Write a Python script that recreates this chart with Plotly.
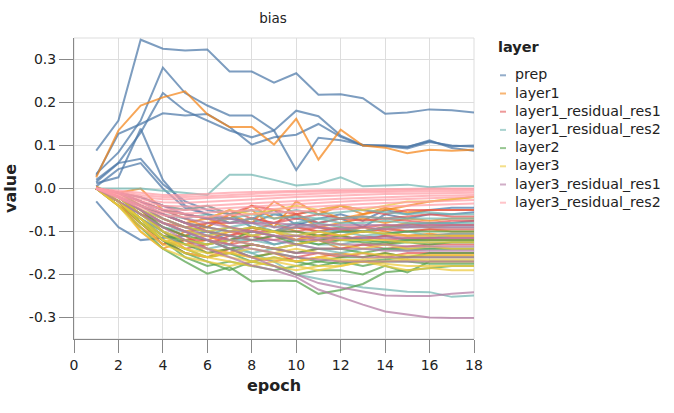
import plotly.graph_objects as go

epochs = list(range(1, 19))

layers = ["prep", "layer1", "layer1_residual_res1", "layer1_residual_res2",
          "layer2", "layer3", "layer3_residual_res1", "layer3_residual_res2"]

colors = ["#4c78a8", "#f58518", "#e45756", "#72b7b2",
          "#54a24b", "#eeca3b", "#b279a2", "#ff9da6"]

prep = [
    [0.088, 0.158, 0.346, 0.325, 0.321, 0.323, 0.272, 0.272, 0.246, 0.268, 0.218, 0.219, 0.21, 0.174, 0.177, 0.184, 0.182, 0.177],
    [0.034, 0.084, 0.158, 0.281, 0.222, 0.193, 0.17, 0.17, 0.135, 0.181, 0.168, 0.123, 0.1, 0.1, 0.096, 0.112, 0.094, 0.088],
    [0.02, 0.06, 0.13, 0.222, 0.181, 0.158, 0.135, 0.119, 0.135, 0.043, 0.118, 0.112, 0.102, 0.098, 0.093, 0.108, 0.1, 0.097],
    [0.03, 0.127, 0.15, 0.175, 0.17, 0.173, 0.143, 0.102, 0.119, 0.125, 0.15, 0.12, 0.1, 0.1, 0.097, 0.11, 0.098, 0.1],
    [0.012, 0.026, 0.139, 0.02, -0.04, -0.06, -0.07, -0.08, -0.06, -0.07, -0.08, -0.07, -0.09, -0.06, -0.07, -0.06, -0.06, -0.055],
    [0.015, 0.059, 0.069, 0.01, -0.03, -0.05, -0.06, -0.09, -0.1, -0.08, -0.09, -0.1, -0.1, -0.09, -0.085, -0.08, -0.08, -0.075],
    [0.005, 0.045, 0.059, 0.0, -0.045, -0.06, -0.08, -0.07, -0.05, -0.085, -0.07, -0.06, -0.075, -0.05, -0.06, -0.05, -0.045, -0.045],
    [-0.03, -0.09, -0.12, -0.115, -0.11, -0.1, -0.12, -0.11, -0.13, -0.12, -0.11, -0.12, -0.115, -0.11, -0.12, -0.115, -0.11, -0.11],
]

layer1 = [
    [0.026, 0.135, 0.193, 0.212, 0.226, 0.173, 0.143, 0.143, 0.102, 0.162, 0.067, 0.137, 0.1, 0.095, 0.082, 0.09, 0.088, 0.09],
    [0.0, -0.04, -0.08, -0.13, -0.1, -0.09, -0.06, -0.08, -0.03, -0.06, -0.05, -0.07, -0.06, -0.05, -0.04, -0.03, -0.025, -0.02],
    [0.005, -0.02, -0.06, -0.09, -0.11, -0.08, -0.07, -0.04, -0.07, -0.06, -0.09, -0.08, -0.07, -0.08, -0.07, -0.075, -0.07, -0.07],
    [0.0, -0.03, -0.07, -0.11, -0.13, -0.12, -0.1, -0.11, -0.1, -0.09, -0.1, -0.11, -0.1, -0.09, -0.1, -0.095, -0.1, -0.1],
    [0.0, -0.01, 0.0, -0.05, -0.07, -0.09, -0.06, -0.05, -0.09, -0.03, -0.06, -0.04, -0.06, -0.045, -0.055, -0.05, -0.05, -0.05],
    [0.0, -0.03, -0.1, -0.14, -0.12, -0.15, -0.14, -0.13, -0.14, -0.13, -0.12, -0.14, -0.13, -0.13, -0.12, -0.12, -0.12, -0.12],
    [0.0, -0.02, -0.05, -0.1, -0.12, -0.11, -0.13, -0.09, -0.1, -0.12, -0.1, -0.09, -0.1, -0.09, -0.08, -0.09, -0.085, -0.085],
    [0.0, -0.03, -0.08, -0.12, -0.15, -0.16, -0.15, -0.16, -0.15, -0.17, -0.16, -0.15, -0.16, -0.15, -0.16, -0.155, -0.155, -0.155],
    [0.0, -0.01, -0.04, -0.06, -0.08, -0.07, -0.09, -0.1, -0.08, -0.1, -0.11, -0.1, -0.09, -0.1, -0.11, -0.105, -0.11, -0.11],
]

layer1_residual_res1 = [
    [0.0, -0.03, -0.07, -0.1, -0.14, -0.13, -0.11, -0.1, -0.1, -0.09, -0.1, -0.09, -0.09, -0.085, -0.09, -0.085, -0.085, -0.085],
    [0.0, -0.02, -0.05, -0.08, -0.09, -0.08, -0.08, -0.07, -0.08, -0.06, -0.08, -0.07, -0.065, -0.07, -0.065, -0.06, -0.065, -0.065],
    [0.0, -0.04, -0.09, -0.13, -0.12, -0.12, -0.13, -0.12, -0.11, -0.12, -0.11, -0.11, -0.12, -0.11, -0.11, -0.11, -0.105, -0.105],
    [0.0, -0.01, -0.03, -0.05, -0.06, -0.07, -0.05, -0.07, -0.08, -0.07, -0.06, -0.07, -0.075, -0.07, -0.075, -0.08, -0.075, -0.075],
    [0.0, -0.03, -0.06, -0.09, -0.11, -0.14, -0.15, -0.13, -0.14, -0.15, -0.14, -0.14, -0.13, -0.14, -0.135, -0.13, -0.13, -0.13],
    [0.0, -0.02, -0.04, -0.06, -0.08, -0.1, -0.11, -0.09, -0.1, -0.1, -0.09, -0.095, -0.1, -0.095, -0.1, -0.095, -0.095, -0.095],
    [0.0, -0.03, -0.08, -0.12, -0.15, -0.16, -0.14, -0.16, -0.17, -0.16, -0.15, -0.16, -0.15, -0.16, -0.15, -0.15, -0.15, -0.15],
    [0.0, -0.01, -0.02, -0.04, -0.05, -0.04, -0.06, -0.04, -0.05, -0.06, -0.05, -0.04, -0.05, -0.06, -0.05, -0.05, -0.05, -0.05],
    [0.0, -0.02, -0.06, -0.08, -0.1, -0.11, -0.12, -0.11, -0.12, -0.11, -0.12, -0.12, -0.11, -0.12, -0.115, -0.115, -0.115, -0.115],
]

layer1_residual_res2 = [
    [0.0, 0.0, 0.0, -0.005, -0.01, -0.015, 0.032, 0.032, 0.02, 0.007, 0.011, 0.026, 0.005, 0.007, 0.009, 0.003, 0.006, 0.006],
    [0.0, -0.02, -0.05, -0.08, -0.1, -0.12, -0.14, -0.15, -0.17, -0.2, -0.21, -0.22, -0.23, -0.235, -0.24, -0.241, -0.252, -0.249],
    [0.0, -0.02, -0.04, -0.06, -0.07, -0.06, -0.08, -0.07, -0.09, -0.08, -0.07, -0.08, -0.08, -0.075, -0.08, -0.08, -0.08, -0.08],
    [0.0, -0.03, -0.06, -0.09, -0.1, -0.11, -0.09, -0.11, -0.1, -0.11, -0.1, -0.1, -0.11, -0.105, -0.1, -0.11, -0.105, -0.105],
    [0.0, -0.01, -0.02, -0.04, -0.05, -0.04, -0.06, -0.05, -0.06, -0.05, -0.06, -0.055, -0.05, -0.055, -0.06, -0.055, -0.06, -0.06],
    [0.0, -0.03, -0.07, -0.11, -0.13, -0.14, -0.13, -0.15, -0.14, -0.13, -0.14, -0.15, -0.14, -0.14, -0.145, -0.14, -0.14, -0.14],
    [0.0, -0.02, -0.05, -0.07, -0.09, -0.1, -0.09, -0.08, -0.1, -0.09, -0.08, -0.09, -0.1, -0.09, -0.09, -0.09, -0.09, -0.09],
    [0.0, -0.03, -0.07, -0.1, -0.12, -0.13, -0.12, -0.12, -0.13, -0.12, -0.13, -0.13, -0.12, -0.125, -0.12, -0.125, -0.125, -0.125],
    [0.0, -0.01, -0.03, -0.05, -0.06, -0.07, -0.07, -0.06, -0.07, -0.065, -0.07, -0.07, -0.065, -0.07, -0.07, -0.07, -0.07, -0.07],
]

layer2 = [
    [0.0, -0.04, -0.09, -0.14, -0.17, -0.198, -0.183, -0.216, -0.214, -0.215, -0.245, -0.236, -0.222, -0.195, -0.19, -0.185, -0.18, -0.18],
    [0.0, -0.03, -0.08, -0.12, -0.15, -0.17, -0.19, -0.17, -0.18, -0.2, -0.19, -0.19, -0.2, -0.18, -0.195, -0.17, -0.17, -0.17],
    [0.0, -0.02, -0.06, -0.1, -0.13, -0.15, -0.14, -0.16, -0.15, -0.16, -0.17, -0.16, -0.16, -0.15, -0.16, -0.15, -0.15, -0.15],
    [0.0, -0.03, -0.07, -0.11, -0.12, -0.13, -0.12, -0.1, -0.11, -0.12, -0.13, -0.12, -0.125, -0.13, -0.125, -0.13, -0.125, -0.125],
    [0.0, -0.01, -0.04, -0.07, -0.09, -0.1, -0.11, -0.12, -0.11, -0.13, -0.12, -0.11, -0.12, -0.125, -0.12, -0.12, -0.12, -0.12],
    [0.0, -0.03, -0.08, -0.12, -0.16, -0.18, -0.17, -0.18, -0.19, -0.18, -0.17, -0.175, -0.17, -0.165, -0.16, -0.16, -0.16, -0.16],
    [0.0, -0.02, -0.05, -0.09, -0.11, -0.12, -0.14, -0.13, -0.14, -0.15, -0.14, -0.14, -0.15, -0.14, -0.14, -0.14, -0.14, -0.14],
    [0.0, -0.03, -0.07, -0.12, -0.14, -0.16, -0.15, -0.17, -0.16, -0.17, -0.18, -0.17, -0.18, -0.17, -0.17, -0.175, -0.175, -0.175],
    [0.0, -0.02, -0.04, -0.06, -0.08, -0.09, -0.1, -0.09, -0.1, -0.1, -0.11, -0.1, -0.1, -0.105, -0.1, -0.1, -0.1, -0.1],
]

layer3 = [
    [0.0, -0.03, -0.07, -0.11, -0.14, -0.16, -0.17, -0.18, -0.17, -0.18, -0.19, -0.18, -0.17, -0.18, -0.19, -0.185, -0.19, -0.19],
    [0.0, -0.02, -0.06, -0.1, -0.12, -0.13, -0.12, -0.13, -0.14, -0.13, -0.12, -0.13, -0.14, -0.13, -0.14, -0.135, -0.14, -0.14],
    [0.0, -0.01, -0.03, -0.05, -0.06, -0.07, -0.05, -0.06, -0.05, -0.04, -0.05, -0.04, -0.05, -0.04, -0.03, -0.03, -0.025, -0.02],
    [0.0, -0.04, -0.09, -0.13, -0.15, -0.16, -0.15, -0.16, -0.165, -0.17, -0.16, -0.165, -0.17, -0.17, -0.165, -0.17, -0.17, -0.17],
    [0.0, -0.02, -0.05, -0.08, -0.1, -0.11, -0.1, -0.09, -0.1, -0.11, -0.1, -0.11, -0.1, -0.105, -0.11, -0.11, -0.11, -0.11],
    [0.0, -0.03, -0.07, -0.12, -0.13, -0.14, -0.15, -0.14, -0.15, -0.14, -0.15, -0.155, -0.15, -0.155, -0.155, -0.155, -0.155, -0.155],
    [0.0, -0.03, -0.08, -0.12, -0.14, -0.15, -0.16, -0.17, -0.16, -0.17, -0.16, -0.17, -0.165, -0.16, -0.165, -0.165, -0.165, -0.165],
    [0.0, -0.02, -0.05, -0.07, -0.09, -0.1, -0.09, -0.11, -0.1, -0.12, -0.11, -0.12, -0.12, -0.12, -0.125, -0.125, -0.125, -0.125],
    [0.0, -0.04, -0.1, -0.14, -0.16, -0.17, -0.18, -0.17, -0.18, -0.19, -0.18, -0.18, -0.17, -0.175, -0.18, -0.18, -0.18, -0.18],
]

layer3_residual_res1 = [
    [0.0, -0.03, -0.06, -0.09, -0.12, -0.14, -0.16, -0.179, -0.19, -0.206, -0.235, -0.253, -0.27, -0.286, -0.293, -0.3, -0.301, -0.301],
    [0.0, -0.02, -0.05, -0.08, -0.1, -0.12, -0.14, -0.16, -0.18, -0.2, -0.22, -0.23, -0.24, -0.249, -0.25, -0.25, -0.245, -0.241],
    [0.0, -0.01, -0.03, -0.05, -0.07, -0.08, -0.09, -0.1, -0.11, -0.12, -0.12, -0.13, -0.13, -0.13, -0.135, -0.135, -0.135, -0.135],
    [0.0, -0.01, -0.02, -0.04, -0.06, -0.07, -0.08, -0.08, -0.09, -0.09, -0.09, -0.095, -0.09, -0.095, -0.09, -0.09, -0.09, -0.09],
    [0.0, -0.02, -0.04, -0.07, -0.09, -0.11, -0.12, -0.13, -0.14, -0.15, -0.15, -0.155, -0.16, -0.16, -0.16, -0.16, -0.16, -0.16],
    [0.0, -0.01, -0.03, -0.06, -0.08, -0.09, -0.1, -0.1, -0.11, -0.11, -0.115, -0.115, -0.115, -0.115, -0.115, -0.115, -0.115, -0.115],
    [0.0, -0.02, -0.04, -0.06, -0.08, -0.1, -0.11, -0.12, -0.12, -0.13, -0.14, -0.14, -0.14, -0.145, -0.145, -0.145, -0.145, -0.145],
    [0.0, -0.01, -0.03, -0.05, -0.06, -0.07, -0.07, -0.08, -0.08, -0.085, -0.085, -0.085, -0.085, -0.085, -0.085, -0.085, -0.085, -0.085],
    [0.0, -0.02, -0.05, -0.08, -0.1, -0.12, -0.13, -0.14, -0.15, -0.16, -0.165, -0.17, -0.17, -0.17, -0.17, -0.17, -0.17, -0.17],
]

layer3_residual_res2 = [
    [0.0, -0.005, -0.01, -0.015, -0.015, -0.012, -0.01, -0.008, -0.006, -0.005, -0.004, -0.003, -0.002, -0.002, -0.001, 0.0, 0.0, 0.0],
    [0.0, -0.01, -0.02, -0.025, -0.025, -0.022, -0.02, -0.018, -0.015, -0.013, -0.011, -0.01, -0.009, -0.008, -0.007, -0.006, -0.005, -0.005],
    [0.0, -0.012, -0.025, -0.032, -0.033, -0.031, -0.028, -0.025, -0.022, -0.02, -0.018, -0.016, -0.014, -0.013, -0.012, -0.011, -0.01, -0.01],
    [0.0, -0.015, -0.03, -0.04, -0.042, -0.04, -0.037, -0.034, -0.031, -0.028, -0.026, -0.024, -0.022, -0.02, -0.018, -0.017, -0.016, -0.015],
    [0.0, -0.018, -0.035, -0.048, -0.05, -0.048, -0.045, -0.042, -0.039, -0.036, -0.033, -0.03, -0.028, -0.026, -0.024, -0.022, -0.021, -0.02],
    [0.0, -0.02, -0.04, -0.055, -0.058, -0.056, -0.053, -0.05, -0.047, -0.044, -0.041, -0.038, -0.036, -0.034, -0.032, -0.03, -0.028, -0.027],
    [0.0, -0.008, -0.015, -0.02, -0.02, -0.018, -0.015, -0.012, -0.01, -0.008, -0.007, -0.006, -0.005, -0.004, -0.003, -0.003, -0.002, -0.002],
    [0.0, -0.022, -0.045, -0.062, -0.066, -0.065, -0.062, -0.059, -0.056, -0.053, -0.05, -0.047, -0.044, -0.042, -0.04, -0.038, -0.036, -0.035],
]

series = [prep, layer1, layer1_residual_res1, layer1_residual_res2,
          layer2, layer3, layer3_residual_res1, layer3_residual_res2]

x_ticks = [0, 2, 4, 6, 8, 10, 12, 14, 16, 18]
y_ticks = [-0.3, -0.2, -0.1, 0.0, 0.1, 0.2, 0.3]
y_labels = ["-0.3", "-0.2", "-0.1", "0.0", "0.1", "0.2", "0.3"]

FONT = "DejaVu Sans"
TXT = "#222"
W, H = 674, 413
L, R, T, B = 74, 200, 38, 74
PW, PH = W - L - R, H - T - B


def px_x(px):
    return (px - L) / PW


def px_y(py):
    return 1 - (py - T) / PH


fig = go.Figure()
for name, color, lines in zip(layers, colors, series):
    for i, vals in enumerate(lines):
        fig.add_trace(go.Scatter(
            x=epochs, y=vals, mode="lines", name=name,
            legendgroup=name, showlegend=False,
            line=dict(color=color, width=2), opacity=0.72,
        ))

annotations = [
    dict(text="<b>layer</b>", x=px_x(496), y=px_y(47), xref="paper", yref="paper",
         xanchor="left", yanchor="middle", showarrow=False,
         font=dict(size=14.5, family=FONT, color=TXT)),
]
shapes = [dict(type="rect", xref="paper", yref="paper", x0=0, x1=1, y0=0, y1=1,
               line=dict(color="#ddd", width=1), fillcolor="rgba(0,0,0,0)", layer="below")]

for k, (name, color) in enumerate(zip(layers, colors)):
    cy = 74.3 + k * 18.2
    annotations.append(dict(text=name, x=px_x(513), y=px_y(cy), xref="paper", yref="paper",
                            xanchor="left", yanchor="middle", showarrow=False,
                            font=dict(size=14.2, family=FONT, color=TXT)))
    shapes.append(dict(type="line", xref="paper", yref="paper",
                       x0=px_x(500), x1=px_x(506), y0=px_y(cy + 1), y1=px_y(cy + 1),
                       line=dict(color=color, width=2), opacity=0.6))

fig.update_layout(
    width=W, height=H,
    margin=dict(l=L, r=R, t=T, b=B, autoexpand=False),
    paper_bgcolor="white", plot_bgcolor="white",
    font=dict(family=FONT, color=TXT),
    showlegend=False,
    title=dict(text="bias", x=273 / W, xanchor="center", y=1 - 18 / H,
               yanchor="middle", font=dict(size=13.5, family=FONT, color=TXT)),
    xaxis=dict(range=[0, 18], tickvals=x_ticks, showgrid=True, gridcolor="#ddd",
               gridwidth=1, showline=True, linecolor="#888", linewidth=1,
               ticks="outside", ticklen=13, tickcolor="#888", automargin=False,
               tickfont=dict(size=14, family=FONT, color=TXT),
               title=dict(text="<b>epoch</b>", font=dict(size=16, family=FONT, color=TXT), standoff=8),
               zeroline=False),
    yaxis=dict(range=[-0.35, 0.35], tickvals=y_ticks, ticktext=y_labels,
               showgrid=True, gridcolor="#ddd", gridwidth=1, showline=True,
               linecolor="#888", linewidth=1, ticks="outside", ticklen=14, tickcolor="#888",
               automargin=False,
               tickfont=dict(size=14, family=FONT, color=TXT),
               title=dict(text="<b>value</b>", font=dict(size=16, family=FONT, color=TXT), standoff=8),
               zeroline=False),
    annotations=annotations,
    shapes=shapes,
)

fig.write_html("out.html", config={"displayModeBar": False},
               post_script="document.body.style.margin='0';document.body.style.padding='0';")
